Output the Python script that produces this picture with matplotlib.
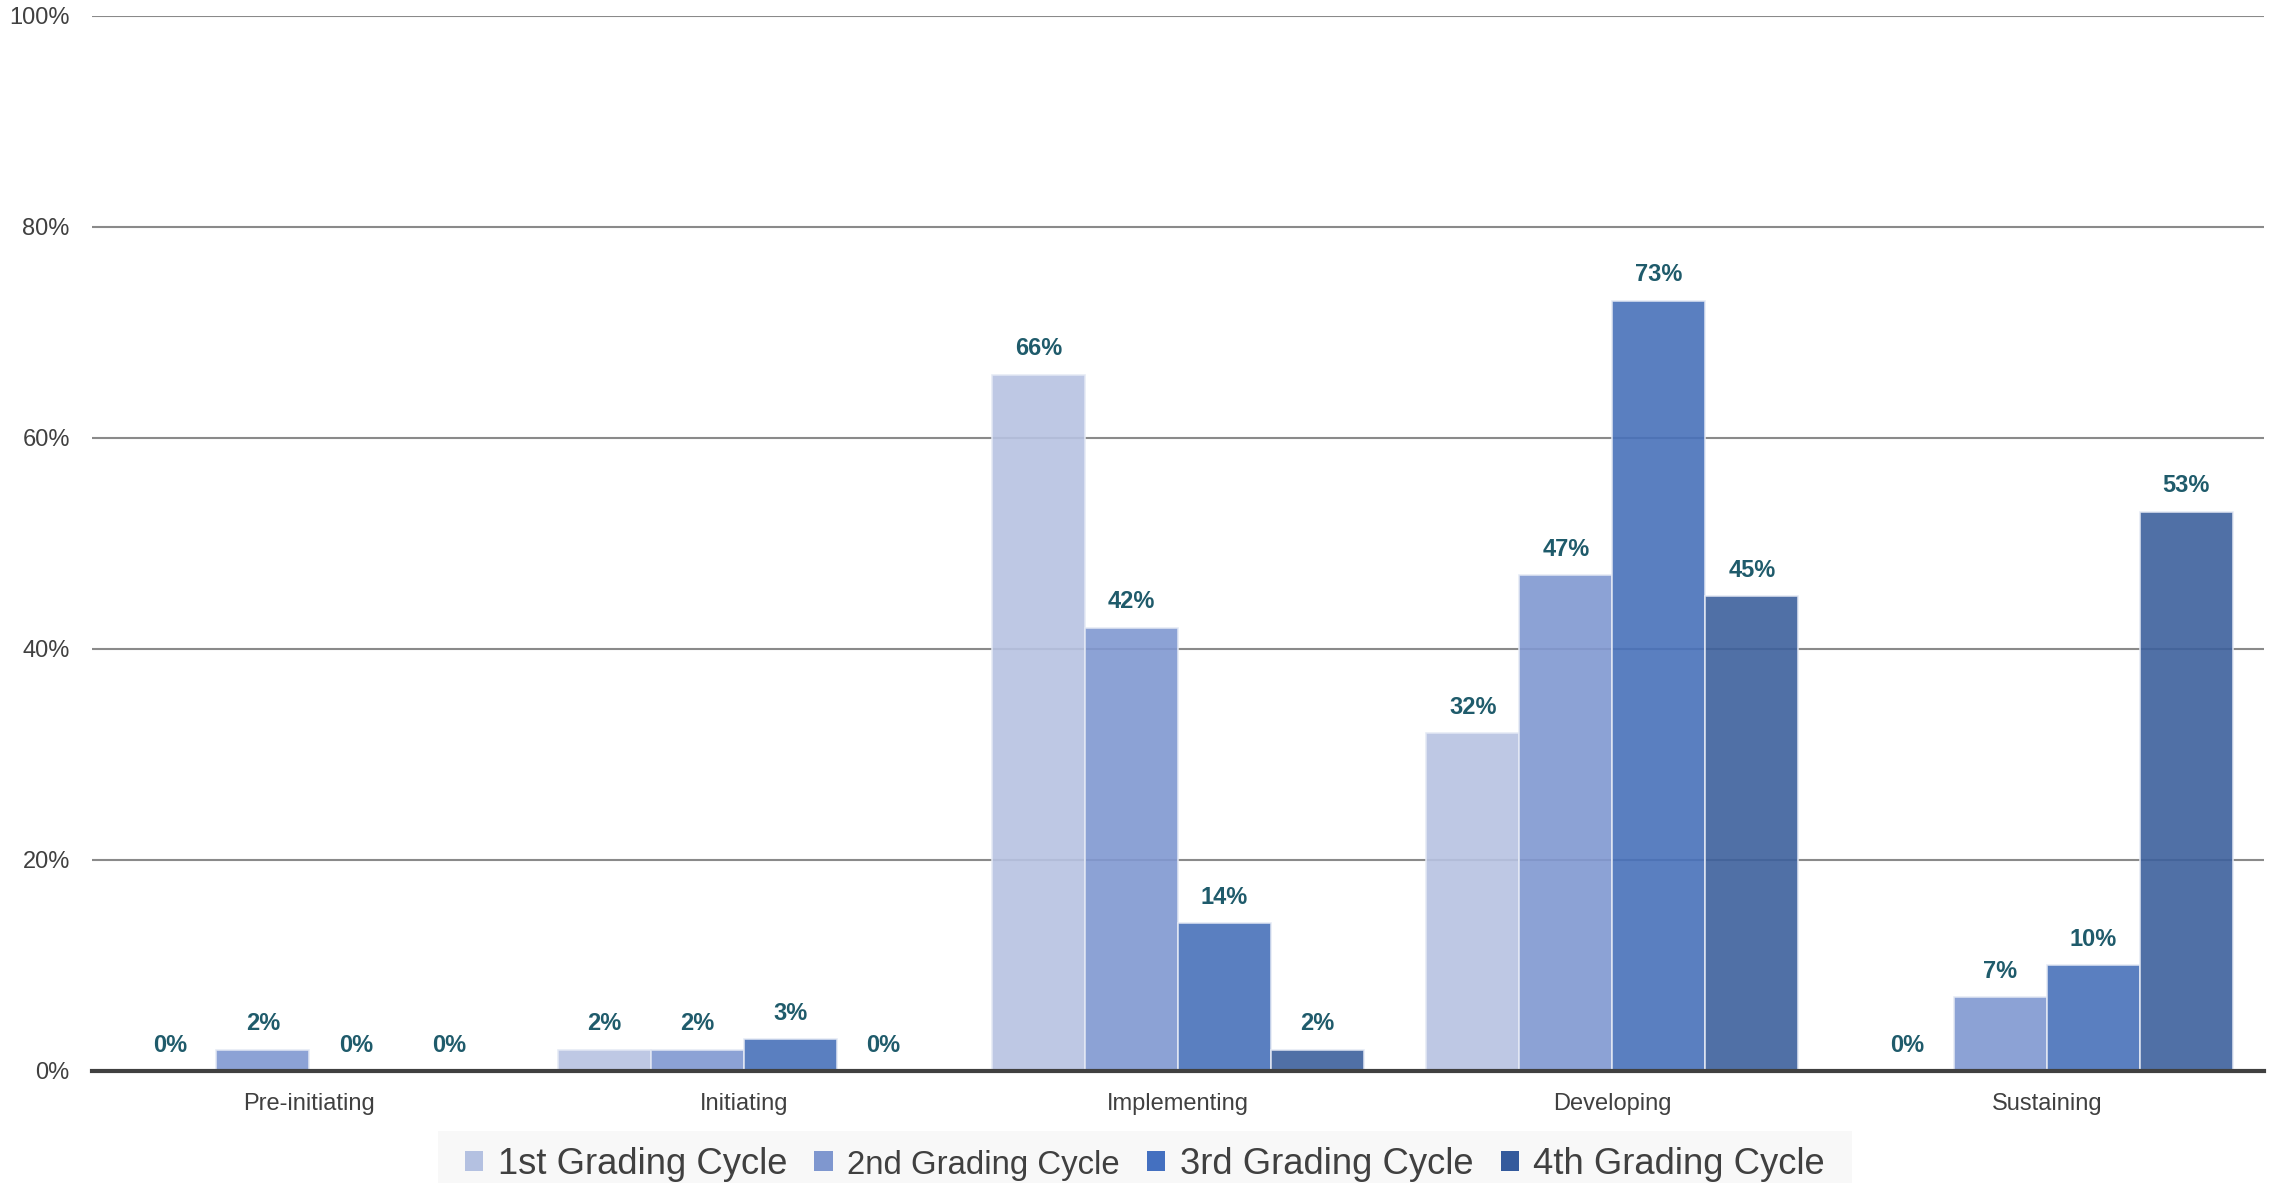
import matplotlib
matplotlib.use("Agg")
import matplotlib.pyplot as plt
from matplotlib.patches import Rectangle
import numpy as np

# Share of students at each implementation level, per grading cycle
categories = ["Pre-initiating", "Initiating", "Implementing", "Developing", "Sustaining"]
series_names = ["1st Grading Cycle", "2nd Grading Cycle", "3rd Grading Cycle", "4th Grading Cycle"]
cycle_1 = [0, 2, 66, 32, 0]
cycle_2 = [2, 2, 42, 47, 7]
cycle_3 = [0, 3, 14, 73, 10]
cycle_4 = [0, 0, 2, 45, 53]
y_ticks = [0, 20, 40, 60, 80, 100]

series = [cycle_1, cycle_2, cycle_3, cycle_4]
bar_colors = ["#B7C2E1", "#8098D1", "#4871BA", "#3D609C"]
legend_colors = ["#B4C1E1", "#7F97CF", "#4470C0", "#345A9C"]
legend_sizes = [26.2, 23.7, 26.2, 26.2]
label_color = "#1F5B6B"
text_color = "#404040"

plt.rcParams["font.family"] = ["Liberation Sans", "DejaVu Sans"]

W, H = 2279, 1183
fig = plt.figure(figsize=(W / 100, H / 100), dpi=100)
ax = fig.add_axes([0.0404, 0.0947, 0.9530, 0.8918])

x = np.arange(len(categories))
width = 0.214
offsets = (np.arange(len(series)) - 1.5) * width

for vals, off, col in zip(series, offsets, bar_colors):
    bars = ax.bar(x + off, vals, width, color=col, alpha=0.9,
                  edgecolor="#E4E9F4", linewidth=1.2, zorder=3)
    for rect, v in zip(bars, vals):
        ax.annotate(f"{v}%", (rect.get_x() + rect.get_width() / 2, v),
                    xytext=(0, 14), textcoords="offset points",
                    ha="center", va="baseline", fontsize=17,
                    fontweight="bold", color=label_color, zorder=5)

ax.set_xlim(-0.5, len(categories) - 0.5)
ax.set_ylim(0, 100)
ax.set_yticks(y_ticks)
ax.set_yticklabels([f"{t}%" for t in y_ticks])
ax.set_xticks(x)
ax.set_xticklabels(categories)

ax.yaxis.grid(True, color="#8A8A8A", linewidth=1.5, zorder=1)
ax.set_axisbelow(True)
for s in ["top", "right", "left"]:
    ax.spines[s].set_visible(False)
ax.spines["bottom"].set_color("#404040")
ax.spines["bottom"].set_linewidth(3)
ax.spines["bottom"].set_zorder(6)

ax.tick_params(axis="both", length=0, labelsize=17, colors=text_color)
ax.tick_params(axis="y", pad=16)
ax.tick_params(axis="x", pad=16)

# Legend strip along the bottom edge
handles = [Rectangle((0, 0), 1, 1, facecolor=c, edgecolor="none") for c in legend_colors]
leg = fig.legend(handles, series_names, loc="upper center",
                 bbox_to_anchor=(0.5024, 1 - 1147 / H), ncol=4,
                 fontsize=26.2, frameon=False,
                 handlelength=0.5, handleheight=0.5, handletextpad=0.4,
                 columnspacing=0.75, borderpad=0.0, borderaxespad=0)
for t, fs in zip(leg.get_texts(), legend_sizes):
    t.set_color(text_color)
    t.set_fontsize(fs)

fig.canvas.draw()
bb = leg.get_window_extent()
pad = 27
top = H - 1131
bg = Rectangle((bb.x0 - pad, 0), bb.width + 2 * pad, top,
               transform=None, facecolor="#F8F8F8", edgecolor="none", zorder=0)
fig.patches.append(bg)

fig.savefig("out.png", dpi=100, facecolor="white")
